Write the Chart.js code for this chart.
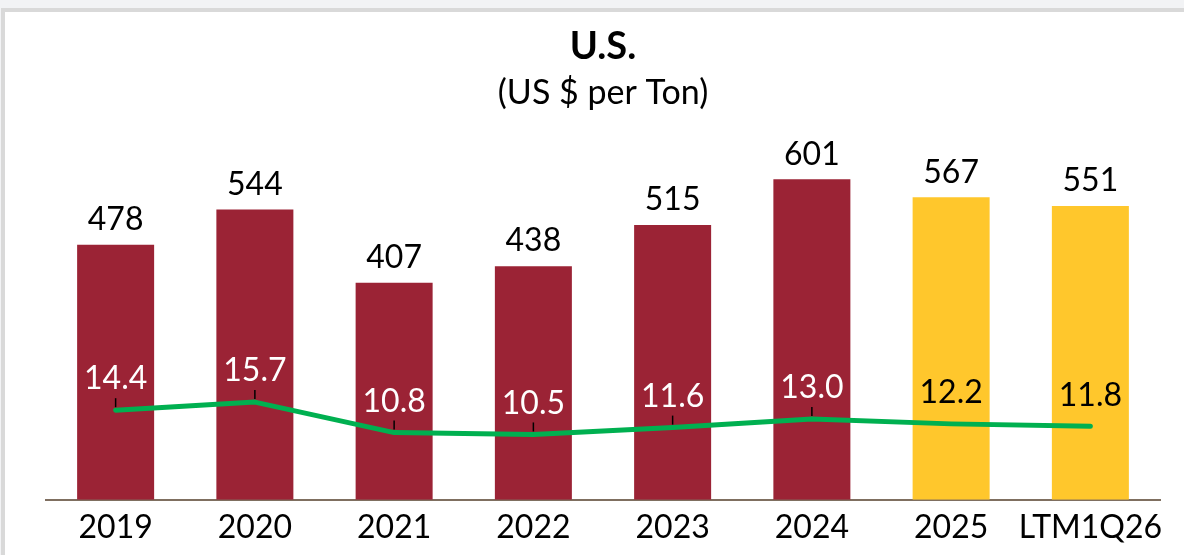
<!DOCTYPE html>
<html lang="en">
<head>
  <meta charset="UTF-8" />
  <title>U.S. - US $ per Ton</title>
  <script src="https://cdn.jsdelivr.net/npm/chart.js"></script>
  <style>
    body {
      margin: 0;
      background-color: #f2f3f5;
      width: 1184px;
      height: 555px;
      overflow: hidden;
      position: relative;
    }

    .panel {
      position: absolute;
      left: 1px;
      top: 8px;
      width: 1190px;
      height: 560px;
      background: #d9d9d9;
    }

    .chart-box {
      position: absolute;
      left: 5px;
      top: 12px;
      width: 1179px;
      height: 543px;
      background: white;
    }

    canvas {
      display: block;
    }
  </style>
</head>
<body>
  <div class="panel"></div>
  <div class="chart-box">
    <canvas id="usChart" width="1179" height="543"></canvas>
  </div>

  <script>
    const categories = ['2019', '2020', '2021', '2022', '2023', '2024', '2025', 'LTM1Q26'];
    const pricePerTon = [478, 544, 407, 438, 515, 601, 567, 551];
    const secondSeries = [14.4, 15.7, 10.8, 10.5, 11.6, 13.0, 12.2, 11.8];
    const actualYears = 6; // the last two columns are shown in yellow

    const RED = '#9b2335';
    const YELLOW = '#ffc72c';
    const FONT = "Lato, 'Open Sans', sans-serif";

    // draws the value labels (no datalabels plugin available)
    const valueLabels = {
      id: 'valueLabels',
      afterDatasetsDraw(chart) {
        const ctx = chart.ctx;
        ctx.save();
        ctx.textAlign = 'center';
        ctx.textBaseline = 'middle';
        ctx.font = '32px ' + FONT;

        const bars = chart.getDatasetMeta(0).data;
        bars.forEach((bar, i) => {
          ctx.fillStyle = '#000';
          ctx.fillText(pricePerTon[i], bar.x, bar.y - 25);
        });

        const pts = chart.getDatasetMeta(1).data;
        pts.forEach((pt, i) => {
          const onRed = i < actualYears;
          if (onRed) {
            ctx.strokeStyle = '#000';
            ctx.lineWidth = 1.5;
            ctx.beginPath();
            ctx.moveTo(pt.x, pt.y - 3);
            ctx.lineTo(pt.x, pt.y - 12);
            ctx.stroke();
          }
          ctx.fillStyle = onRed ? '#fff' : '#000';
          ctx.fillText(secondSeries[i].toFixed(1), pt.x, pt.y - 31);
        });
        ctx.restore();
      }
    };

    new Chart(document.getElementById('usChart'), {
      type: 'bar',
      data: {
        labels: categories,
        datasets: [{
          type: 'bar',
          data: pricePerTon,
          backgroundColor: c => c.dataIndex < actualYears ? RED : YELLOW,
          categoryPercentage: 1,
          barPercentage: 0.553,
          yAxisID: 'y',
          order: 2
        }, {
          type: 'line',
          data: secondSeries,
          borderColor: '#00b050',
          borderWidth: 5,
          borderCapStyle: 'round',
          borderJoinStyle: 'round',
          pointRadius: 0,
          tension: 0,
          yAxisID: 'y2',
          order: 1
        }]
      },
      options: {
        responsive: false,
        animation: false,
        layout: {
          padding: { left: 41, right: 24, bottom: 0 }
        },
        plugins: {
          legend: { display: false },
          tooltip: { enabled: false },
          title: {
            display: true,
            text: 'U.S.',
            color: '#000',
            font: { family: FONT, size: 38, weight: 'bold' },
            padding: { top: 12, bottom: 3 }
          },
          subtitle: {
            display: true,
            text: '(US $ per Ton)',
            color: '#000',
            font: { family: FONT, size: 34 },
            padding: { top: 0, bottom: 13 }
          }
        },
        scales: {
          x: {
            grid: { display: false, drawTicks: false },
            border: { display: true, color: '#7f6f60', width: 2 },
            ticks: {
              color: '#000',
              font: { family: FONT, size: 32, lineHeight: 1.1 },
              padding: 10,
              maxRotation: 0,
              minRotation: 0,
              autoSkip: false
            }
          },
          y: {
            display: false,
            min: 0,
            max: 700
          },
          y2: {
            display: false,
            min: 0,
            max: 60
          }
        }
      },
      plugins: [valueLabels]
    });
  </script>
</body>
</html>
